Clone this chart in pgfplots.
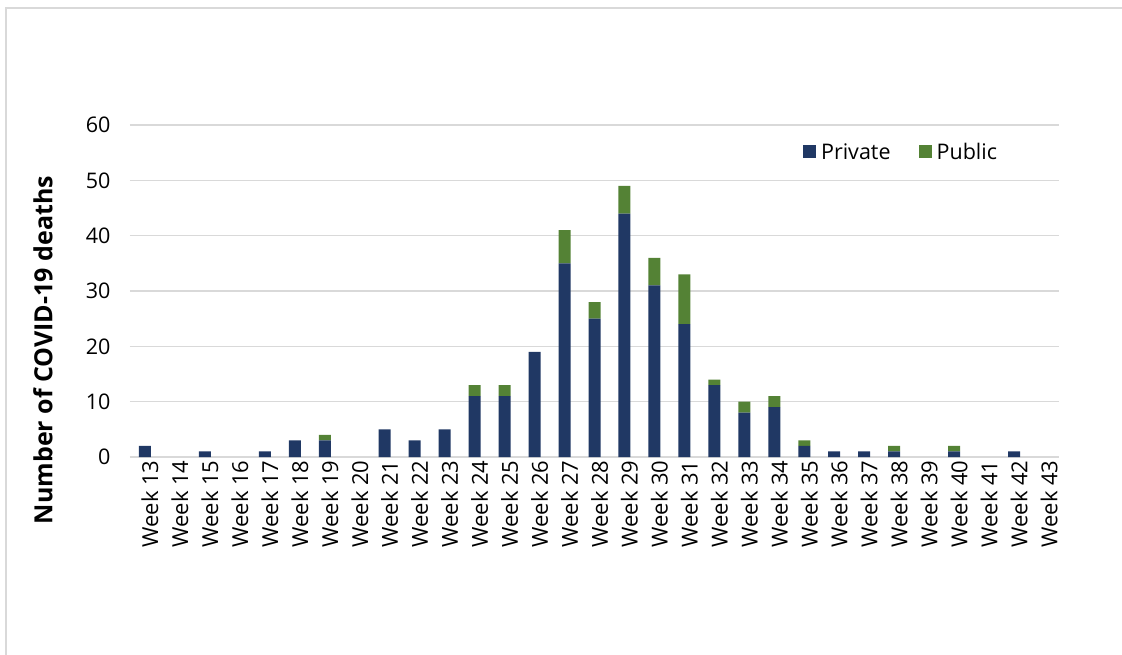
\documentclass[border=0pt]{standalone}
\usepackage{pgfplots}
\pgfplotsset{compat=1.18}
\usepackage{fontspec}
\setmainfont{Open Sans}

\definecolor{privcol}{HTML}{203864}
\definecolor{pubcol}{HTML}{548235}
\definecolor{gridcol}{HTML}{D9D9D9}

\begin{document}
\begin{tikzpicture}[x=1pt,y=1pt]
% page area and chart frame
\path[use as bounding box] (0,0) rectangle (1122,-655);
\draw[gridcol, line width=1.5pt] (6,-655) -- (6,-8) -- (1122,-8);

\begin{axis}[
  at={(130pt,-457pt)}, anchor=south west,
  scale only axis,
  width=929pt, height=332pt,
  ybar stacked,
  bar width=12pt,
  xmin=-0.5, xmax=30.5,
  ymin=0, ymax=60,
  ytick={0,10,...,60},
  xtick={0,...,30},
  xticklabels={Week 13,Week 14,Week 15,Week 16,Week 17,Week 18,Week 19,Week 20,
    Week 21,Week 22,Week 23,Week 24,Week 25,Week 26,Week 27,Week 28,Week 29,
    Week 30,Week 31,Week 32,Week 33,Week 34,Week 35,Week 36,Week 37,Week 38,
    Week 39,Week 40,Week 41,Week 42,Week 43},
  /pgf/number format/assume math mode=true,
  tick label style={font=\fontsize{21.5}{25}\selectfont, text=black},
  xticklabel style={rotate=90, anchor=east, xshift=0pt, yshift=-5pt,
    font=\fontsize{22}{25}\selectfont},
  yticklabel style={anchor=east, xshift=-16pt},
  major tick length=0pt,
  axis line style={draw=none},
  ymajorgrids,
  grid style={gridcol, line width=1.6pt},
  ylabel={Number of COVID-19 deaths},
  ylabel style={font=\fontsize{25}{29}\selectfont\bfseries,
    at={(axis description cs:-0.0937,0.322)}, anchor=center, rotate=0},
  legend columns=2,
  legend style={at={(rel axis cs:0.83,0.919)}, anchor=center, draw=none,
    fill=none, font=\fontsize{21.5}{25}\selectfont,
    /tikz/every odd column/.append style={column sep=3pt},
    /tikz/every even column/.append style={column sep=26pt}},
  legend image code/.code={\path[#1,draw=none] (0pt,-6.5pt) rectangle (13pt,6.5pt);},
]
\addplot[fill=privcol, draw=none] coordinates {
  (0,2) (1,0) (2,1) (3,0) (4,1) (5,3) (6,3) (7,0) (8,5) (9,3) (10,5)
  (11,11) (12,11) (13,19) (14,35) (15,25) (16,44) (17,31) (18,24) (19,13)
  (20,8) (21,9) (22,2) (23,1) (24,1) (25,1) (26,0) (27,1) (28,0) (29,1) (30,0)};
\addlegendentry{Private}
\addplot[fill=pubcol, draw=none] coordinates {
  (0,0) (1,0) (2,0) (3,0) (4,0) (5,0) (6,1) (7,0) (8,0) (9,0) (10,0)
  (11,2) (12,2) (13,0) (14,6) (15,3) (16,5) (17,5) (18,9) (19,1)
  (20,2) (21,2) (22,1) (23,0) (24,0) (25,1) (26,0) (27,1) (28,0) (29,0) (30,0)};
\addlegendentry{Public}
\end{axis}
\end{tikzpicture}
\end{document}
